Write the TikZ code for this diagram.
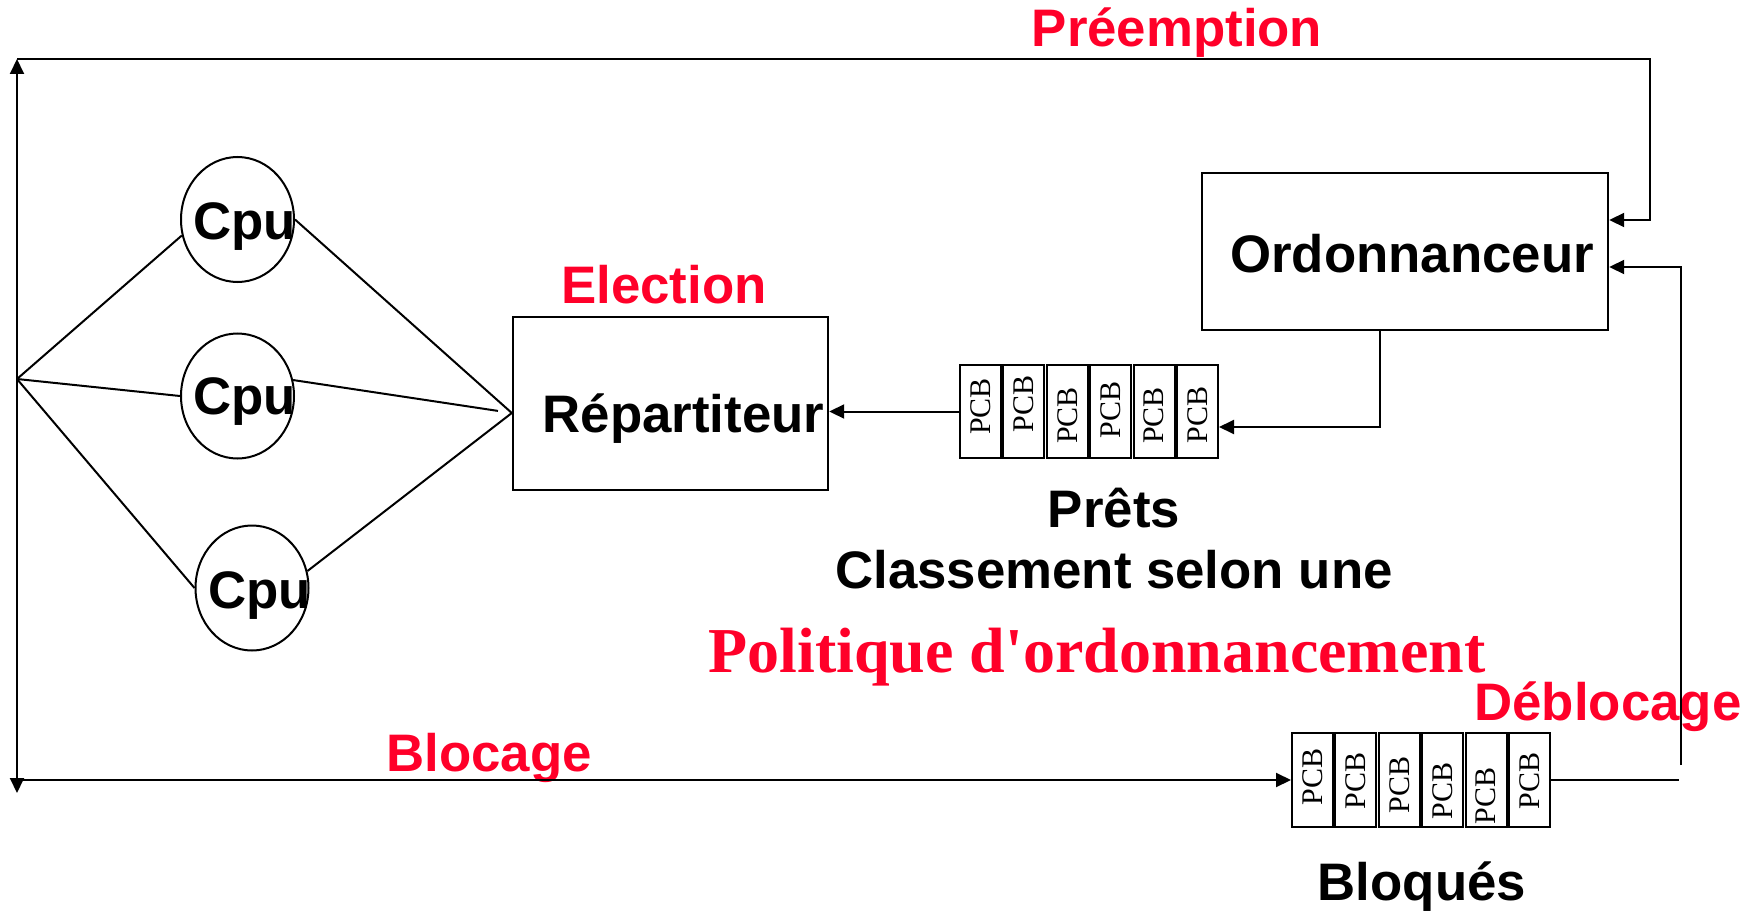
\documentclass[tikz,border=0pt]{standalone}
\usepackage{fontspec}
\setmainfont{Liberation Sans}
\newfontfamily\pcbfont{Liberation Serif}
\newfontfamily\polfont[Ligatures=TeXOff]{Liberation Serif}
\usetikzlibrary{arrows.meta,shapes.geometric}
\definecolor{labelred}{RGB}{255,0,41}
\begin{document}
\begin{tikzpicture}[x=1pt,y=-1pt,
  conn/.style={line width=2pt},
  arr/.style={conn,-{Triangle[length=15pt,width=14pt]}},
  box/.style={draw,line width=2.4pt,inner sep=0pt},
  cpu/.style={draw,ellipse,line width=2pt,inner sep=0pt,minimum width=113pt,minimum height=125pt},
  cell/.style={draw,line width=2pt,inner sep=0pt,minimum width=41pt,minimum height=93pt},
  pcb/.style={rotate=90,inner sep=0pt,font=\pcbfont\fontsize{30}{30}\selectfont},
  lbl/.style={inner sep=0pt,anchor=base,font=\bfseries\fontsize{52.8}{60}\selectfont},
  redlbl/.style={lbl,text=labelred},
]
\useasboundingbox (0,0) rectangle (1761,920);

% processors
\node[cpu] (c1) at (237.5,219.5) {};
\node[cpu] (c2) at (237.5,396) {};
\node[cpu] (c3) at (252,588) {};
\node[lbl] (c1t) at (244.5,240) {Cpu};
\node[lbl] (c2t) at (244.5,414) {Cpu};
\node[lbl] (c3t) at (259.5,608) {Cpu};

% dispatcher and scheduler
\node[box,minimum width=315pt,minimum height=173pt] (rep) at (670.5,403.5) {};
\node[lbl] (rept) at (683.5,432) {Répartiteur};
\node[box,minimum width=406pt,minimum height=157pt] (ord) at (1405,251.5) {};
\node[lbl] (ordt) at (1412,272) {Ordonnanceur};

% ready queue
\foreach \i/\dy in {1/-5,2/-7.7,3/4,4/-1.7,5/4,6/3.3} {
  \node[cell] (r\i) at ({980.5+43.4*(\i-1)},411.5) {};
  \node[pcb] (rt\i) at ({980.5+43.4*(\i-1)},{411.5+\dy}) {PCB};
}
% blocked queue
\foreach \i/\dy in {1/-2.7,2/0.7,3/5,4/10.7,5/15.7,6/0.7} {
  \node[cell,minimum height=94pt] (b\i) at ({1312.5+43.4*(\i-1)},780) {};
  \node[pcb] (bt\i) at ({1312.5+43.4*(\i-1)},{780+\dy}) {PCB};
}

% labels
\node[redlbl] (lpre) at (1177,47) {Préemption};
\node[redlbl] (lele) at (664,303) {Election};
\node[redlbl] (lblo) at (489,771) {Blocage};
\node[redlbl] (ldeb) at (1608,720) {Déblocage};
\node[lbl] (lpre2) at (1114,527) {Prêts};
\node[lbl] (lcla) at (1114,588) {Classement selon une};
\node[inner sep=0pt,anchor=base,text=labelred,font=\polfont\bfseries\fontsize{64}{70}\selectfont] (lpol) at (1097,672) {Politique d'ordonnancement};
\node[lbl] (lblq) at (1422,900) {Bloqués};

% routing points
\coordinate (J) at (17,379);
\coordinate (TL) at (17,59);
\coordinate (BL) at (17,793);
\coordinate (TR) at (1650,59);
\coordinate (PA) at (1650,220);
\coordinate (BQ) at (17,780);
\coordinate (DA) at (1679,780);
\coordinate (DB) at (1681,765);
\coordinate (DC) at (1681,267);
\coordinate (OS) at (1380,331);
\coordinate (OR) at (1380,427);
\coordinate (RW) at ([yshift=-9.5pt]rep.west);

% processors fan in / fan out
\draw[conn] (J) -- (c1.196);
\draw[conn] (J) -- (c2.west);
\draw[conn] (J) -- (c3.west);
\draw[conn] (c1.east) -- (RW);
\draw[conn,shorten >=14pt] (c2.16) -- (RW);
\draw[conn] (c3.17) -- (RW);

% flows
\draw[arr] (J) -- (TL);
\draw[arr] (TL) -- (TR) -- (PA) -- (ord.east |- PA);
\draw[arr] (J) -- (BL);
\draw[arr] (BQ) -- (b1.west);
\draw[conn] (b6.east) -- (DA);
\draw[arr] (DB) -- (DC) -- (ord.east |- DC);
\draw[arr] (OS) -- (OR) -- (r6.east |- OR);
\draw[arr] (r1.west) -- (rep.east |- r1.west);
\end{tikzpicture}
\end{document}
